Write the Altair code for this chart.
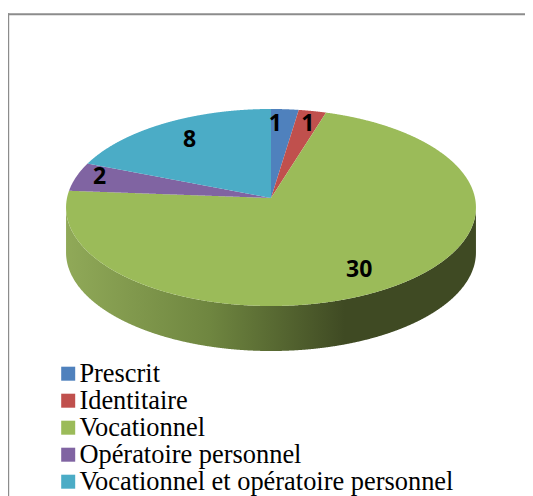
import numpy as np
import pandas as pd
import altair as alt

categories = ["Prescrit", "Identitaire", "Vocationnel", "Opératoire personnel",
              "Vocationnel et opératoire personnel"]
values = [1, 1, 30, 2, 8]
colors = ["#4F81BD", "#C0504D", "#9BBB59", "#8064A2", "#4BACC6"]

# layout of the tilted disc, in page pixels
CX, CY, A, B, K, DEPTH = 271.0, 198.0, 204.0, 97.6, 0.0964, 45.0
LABEL_R = 0.8
nudges = [(-7, -2), (3, -3), (-10, 3), (-15, -4), (5, 3)]


def project(theta, r=1.0):
    """Perspective projection of a disc point (theta clockwise from 12 o'clock)."""
    X, Y = r * np.sin(theta), r * np.cos(theta)
    w = 1 + K * Y
    return CX + A * X / w, CY - B * Y / w


def wedge_band(t0, t1):
    """Turn a wedge outline into x / y / y2 rows for an area mark."""
    n = max(12, int((t1 - t0) * 180))
    ts = np.linspace(t0, t1, n)
    px, py = project(ts)
    xs = np.concatenate([[CX], px, [CX]])
    ys = np.concatenate([[CY], py, [CY]])
    grid = np.unique(np.round(np.concatenate([xs[:-1], np.linspace(xs.min(), xs.max(), 500)]), 3))
    rows = []
    for g in grid:
        hit = []
        for i in range(len(xs) - 1):
            a, b = xs[i], xs[i + 1]
            lo, hi = min(a, b), max(a, b)
            if lo - 1e-3 <= g <= hi + 1e-3:
                if abs(b - a) < 1e-6:
                    hit += [ys[i], ys[i + 1]]
                else:
                    f = np.clip((g - a) / (b - a), 0, 1)
                    hit.append(ys[i] + f * (ys[i + 1] - ys[i]))
        if hit:
            rows.append((g, min(hit), max(hit)))
    return rows


total = sum(values)
edges = np.cumsum([0] + values) / total * 2 * np.pi

rows = []
for name, t0, t1 in zip(categories, edges[:-1], edges[1:]):
    for x, y, y2 in wedge_band(t0, t1):
        rows.append({"cat": name, "x": x, "y": y, "y2": y2})
top = pd.DataFrame(rows)

t_ext = np.arccos(-K)
front = np.linspace(t_ext, 2 * np.pi - t_ext, 1201)
fx, fy = project(front)
wall = pd.DataFrame({"x": fx, "y": fy, "y2": fy + DEPTH}).sort_values("x")

X = alt.X("x:Q", axis=None, scale=alt.Scale(domain=[8, 525], nice=False, zero=False))
Y = alt.Y("y:Q", axis=None, scale=alt.Scale(domain=[496, 8], nice=False, zero=False))

wall_layer = alt.Chart(wall).mark_area(
    opacity=1,
    fill=alt.Gradient(
        gradient="linear", x1=0, x2=1, y1=0, y2=0,
        stops=[
            alt.GradientStop(color="#90A958", offset=0),
            alt.GradientStop(color="#6F8640", offset=0.35),
            alt.GradientStop(color="#3F4A23", offset=0.68),
            alt.GradientStop(color="#3F4A23", offset=1),
        ],
    ),
).encode(x=X, y=Y, y2="y2:Q")

top_layer = alt.Chart(top).mark_area(opacity=1, strokeWidth=0).encode(
    x=X, y=Y, y2="y2:Q",
    color=alt.Color(
        "cat:N",
        scale=alt.Scale(domain=categories, range=colors),
        sort=categories,
        legend=alt.Legend(
            title=None, orient="none", legendX=47, legendY=352.5,
            symbolType="square", symbolSize=196, symbolStrokeWidth=0,
            labelFont="Liberation Serif", labelFontSize=26.4, labelColor="#000000",
            labelOffset={"expr": "-2"}, rowPadding=0, labelLimit=480,
        ),
    ),
)

text_layers = []
for i, (name, v) in enumerate(zip(categories, values)):
    mid = (edges[i] + edges[i + 1]) / 2
    lx, ly = project(mid, LABEL_R)
    d = pd.DataFrame({"x": [lx], "y": [ly], "label": [str(v)]})
    text_layers.append(
        alt.Chart(d).mark_text(
            font="Open Sans", fontWeight="bold", fontSize=23, color="#000000",
            dx=nudges[i][0], dy=nudges[i][1], align="center", baseline="middle",
        ).encode(x=X, y=Y, text="label:N")
    )

frame_d = pd.DataFrame({"k": ["frame"]})
frame_top = alt.Chart(frame_d).mark_rule(color="#8C8C8C", strokeWidth=2).encode(
    x=alt.value(0), x2=alt.value(517), y=alt.value(6.3))
frame_left = alt.Chart(frame_d).mark_rule(color="#8C8C8C", strokeWidth=1.4).encode(
    x=alt.value(0.5), y=alt.value(5.3), y2=alt.value(488))

chart = alt.layer(
    frame_top, frame_left, wall_layer, top_layer, *text_layers
).properties(
    width=517, height=488, padding=0,
    autosize=alt.AutoSizeParams(type="none"),
    background="#FFFFFF",
).configure_view(stroke=None)

chart.save("out.html", embed_options={"renderer": "svg", "actions": False})
